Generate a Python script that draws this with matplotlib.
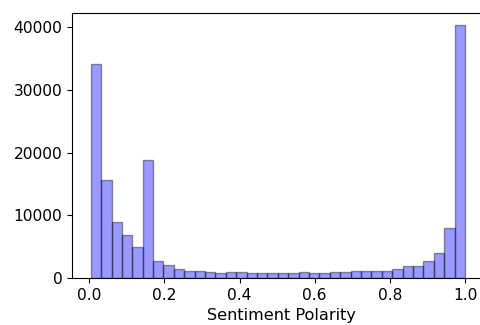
"""
Histogram of sentiment polarity scores across all reviews.
"""

import numpy as np
import matplotlib
matplotlib.use("Agg")
import matplotlib.pyplot as plt

# ── Data: counts per polarity bin ─────────────────────────────────────────────
polarity_min = 0.004
polarity_max = 1.0
n_bins = 36
bin_counts = [
    34100, 15700, 8900, 6900, 5000, 18800, 2650, 2050, 1500, 1150,
    1100, 900, 750, 900, 900, 750, 750, 750, 750, 750,
    900, 750, 750, 900, 900, 1100, 1100, 1100, 1100, 1500,
    1900, 1900, 2650, 4050, 7950, 40350,
]

edges = np.linspace(polarity_min, polarity_max, n_bins + 1)

# ── Figure ────────────────────────────────────────────────────────────────────
# axes run a little past the right edge of the canvas, so that side stays open
fig = plt.figure(figsize=(4.8, 3.25), dpi=100)
ax = fig.add_axes([72 / 480, 47 / 325, 418 / 480, 265.5 / 325])

ax.hist(edges[:-1], bins=edges, weights=bin_counts,
        color="blue", alpha=0.4, edgecolor="black", linewidth=1)

ax.set_xlim(-0.0458, 1.0665)
ax.set_ylim(0, 42370)
ax.spines["right"].set_visible(False)
ax.set_xlabel("Sentiment Polarity", fontsize=11.6)
ax.tick_params(labelsize=11.2)
ax.set_yticks([0, 10000, 20000, 30000, 40000])

plt.savefig("out.png", dpi=100)
plt.close()
